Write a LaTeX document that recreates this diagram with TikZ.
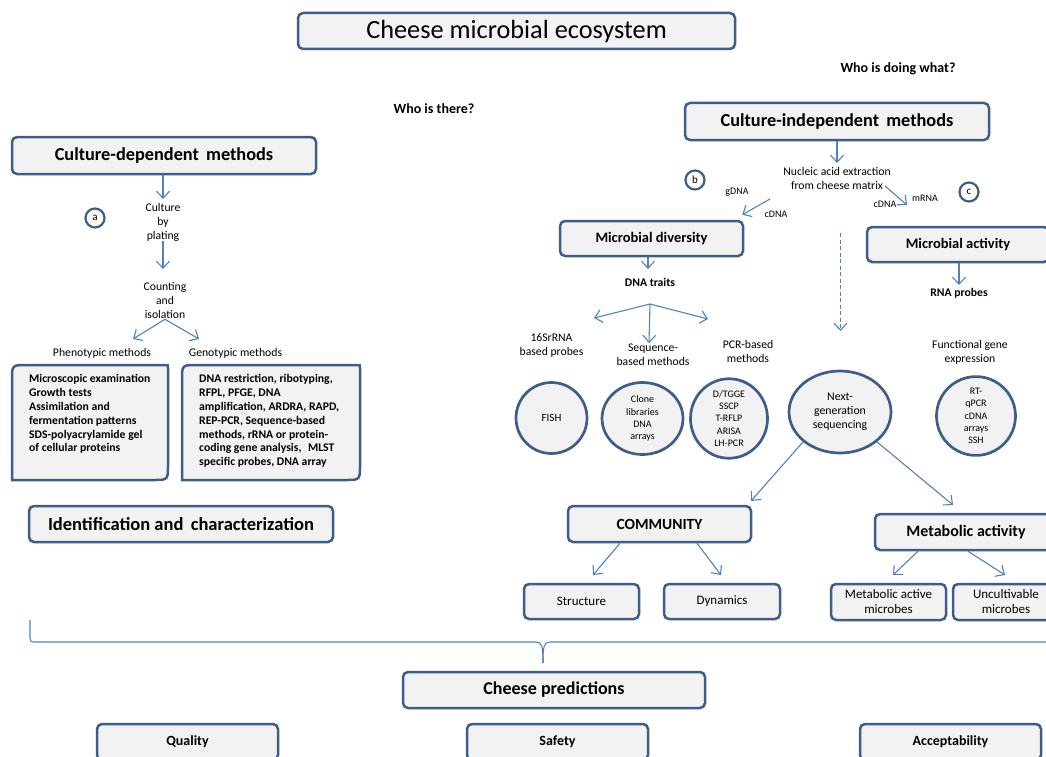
\documentclass[tikz,border=0pt]{standalone}
\usepackage{fontspec}
\setmainfont{Carlito}
\usetikzlibrary{arrows.meta,shapes.geometric}
\definecolor{bord}{RGB}{62,94,138}
\definecolor{boxfill}{RGB}{242,242,242}
\definecolor{arrc}{RGB}{79,129,189}
\begin{document}
\begin{tikzpicture}[x=1pt,y=-1pt,
  box/.style={draw=bord,fill=boxfill,line width=2.5pt,rounded corners=5pt,align=center,inner sep=0pt},
  circ/.style={ellipse,draw=bord,fill=boxfill,line width=2.7pt,align=center,inner sep=0pt,font=\fontsize{10}{12.3}\selectfont},
  letter/.style={circle,draw=bord,fill=white,line width=2.2pt,minimum size=19pt,inner sep=0pt,font=\fontsize{11}{12}\selectfont},
  small/.style={align=center,inner sep=1pt,font=\fontsize{11.7}{14}\selectfont},
  tiny/.style={inner sep=1pt,font=\fontsize{10}{11}\selectfont},
  arr/.style={draw=arrc,line width=1.1pt,-{Straight Barb[length=7pt,width=13pt]}},
  diag/.style={draw=bord,fill=boxfill,line width=2.5pt}
]
\useasboundingbox (0,0) rectangle (1046,757);

% titles
\node[box,minimum width=437pt,minimum height=36pt,font=\fontsize{26.3}{30}\selectfont] (title) at (516.5,31) {Cheese microbial ecosystem};
\node[font=\bfseries\fontsize{14}{16}\selectfont] (whodo) at (898,69) {Who is doing what?};
\node[font=\bfseries\fontsize{14}{16}\selectfont] (whothere) at (434,109) {Who is there?};

% left column
\node[box,minimum width=304pt,minimum height=37pt,font=\bfseries\fontsize{18.3}{21}\selectfont] (cdep) at (164,155.5) {Culture-dependent\, methods};
\node[letter] (la) at (95,218) {a};
\node[small] (plating) at (163,222) {Culture\\by\\plating};
\node[small] (counting) at (165,300) {Counting\\and\\isolation};
\node[small] (pheno) at (102,353) {Phenotypic methods};
\node[small] (geno) at (235.5,353) {Genotypic methods};
\coordinate (tplating) at (163,199);
\coordinate (tcount) at (163,269);
\coordinate (tpheno) at (133,339);
\coordinate (tgeno) at (199,339);
\draw[arr] ([xshift=-1pt]cdep.south) -- (tplating);
\draw[arr] ([yshift=1pt]plating.south) -- (tcount);
\draw[arr] (counting.south) -- (tpheno);
\draw[arr] (counting.south) -- (tgeno);

\draw[diag] (12,480) -- (12,380) .. controls (12,365) .. (27,365) -- (165,365) .. controls (168,365) .. (168,368) -- (168,465) .. controls (168,480) .. (153,480) -- cycle;
\draw[diag] (182,480) -- (182,380) .. controls (182,365) .. (197,365) -- (357,365) .. controls (360,365) .. (360,368) -- (360,465) .. controls (360,480) .. (345,480) -- cycle;
\node[anchor=north west,align=left,inner sep=0pt,font=\bfseries\fontsize{11.7}{13.9}\selectfont] (phenotext) at (29,374) {Microscopic examination\\Growth tests\\Assimilation and\\fermentation patterns\\SDS-polyacrylamide gel\\of cellular proteins};
\node[anchor=north west,align=left,inner sep=0pt,font=\bfseries\fontsize{11.7}{13.9}\selectfont] (genotext) at (199,374) {DNA restriction, ribotyping,\\RFPL, PFGE, DNA\\amplification, ARDRA, RAPD,\\REP-PCR, Sequence-based\\methods, rRNA or protein-\\coding gene analysis,\,\, MLST\\specific probes, DNA array};

\node[box,minimum width=304pt,minimum height=36pt,font=\bfseries\fontsize{18.5}{21}\selectfont] (ident) at (181,524) {Identification and\, characterization};

% right column
\node[box,minimum width=304pt,minimum height=37pt,font=\bfseries\fontsize{18.3}{21}\selectfont] (cind) at (837,121.5) {Culture-independent\, methods};
\node[small] (nucleic) at (837,178) {Nucleic acid extraction\\from cheese matrix};
\coordinate (tnuc) at (837,163);
\draw[arr] (cind.south) -- (tnuc);
\node[letter] (lb) at (695,180) {b};
\node[letter] (lc) at (969,192) {c};
\node[tiny] (gdna) at (737,192) {gDNA};
\node[tiny] (cdna1) at (776,214) {cDNA};
\node[tiny] (cdna2) at (885,204) {cDNA};
\node[tiny] (mrna) at (925,198) {mRNA};
\coordinate (la1) at (770,199);
\coordinate (ra1) at (885,186);
\coordinate (ra2) at (907,205);

\node[box,minimum width=183pt,minimum height=35pt,font=\bfseries\fontsize{14.5}{17}\selectfont] (mdiv) at (651.5,238.5) {Microbial diversity};
\node[box,minimum width=182pt,minimum height=35pt,font=\bfseries\fontsize{14.5}{17}\selectfont] (mact) at (958,244.5) {Microbial activity};
\draw[arr] (la1) -- ([xshift=-2pt,yshift=5pt]mdiv.north east);
\draw[arr] (ra1) -- (ra2);

\node[font=\bfseries\fontsize{11.7}{13}\selectfont,inner sep=1pt] (dnatraits) at (650,282) {DNA traits};
\node[font=\bfseries\fontsize{11.7}{13}\selectfont,inner sep=1pt] (rnaprobes) at (959,293) {RNA probes};
\coordinate (tdna) at (648,269);
\coordinate (trna) at (959,285);
\draw[arr] ([xshift=-3.5pt]mdiv.south) -- (tdna);
\draw[arr] ([xshift=1pt]mact.south) -- (trna);

\node[small] (l16s) at (551.5,345.5) {16SrRNA\\based probes};
\node[small] (lseq) at (653,355) {Sequence-\\based methods};
\node[small] (lpcr) at (748,351.5) {PCR-based\\methods};
\node[small] (lfun) at (970,352) {Functional gene\\expression};
\coordinate (apex) at (650,304);
\coordinate (t16s) at (594,318);
\coordinate (tseq) at (649,343);
\coordinate (tpcr) at (708,319);
\draw[arr] (apex) -- (t16s);
\draw[arr] (apex) -- (tseq);
\draw[arr] (apex) -- (tpcr);

\node[circ,minimum width=71pt,minimum height=71pt,font=\fontsize{11}{13}\selectfont] (fish) at (551.5,418) {FISH};
\node[circ,minimum width=81pt,minimum height=72pt] (clone) at (642.5,418.5) {Clone\\libraries\\DNA\\arrays};
\node[circ,minimum width=77pt,minimum height=74pt] (pcr) at (729,418.5) {D/TGGE\\SSCP\\T-RFLP\\ARISA\\LH-PCR};
\node[circ,minimum width=102pt,minimum height=82pt,font=\fontsize{11.8}{14}\selectfont] (ngs) at (840,412) {Next-\\generation\\sequencing};
\node[circ,minimum width=79pt,minimum height=76pt] (rt) at (976,416) {RT-\\qPCR\\cDNA\\arrays\\SSH};
\coordinate (dtop) at (840.5,233);
\coordinate (dbot) at (840.5,331);
\draw[arr,dash pattern=on 4pt off 2.5pt] (dtop) -- (dbot);

\node[box,minimum width=183pt,minimum height=36pt,font=\bfseries\fontsize{15.5}{18}\selectfont] (comm) at (659.5,524) {COMMUNITY};
\node[box,minimum width=182pt,minimum height=36pt,font=\bfseries\fontsize{16}{18}\selectfont] (metab) at (966,532) {Metabolic activity};
\coordinate (tcomm) at (751,501);
\coordinate (tmetab) at (953,505);
\draw[arr] (ngs.219) -- (tcomm);
\draw[arr] (ngs.321) -- (tmetab);

\node[box,minimum width=115pt,minimum height=35pt,font=\fontsize{13}{15}\selectfont] (struct) at (581.5,601.5) {Structure};
\node[box,minimum width=116pt,minimum height=35pt,font=\fontsize{13}{15}\selectfont] (dyn) at (722,601.5) {Dynamics};
\node[box,minimum width=115pt,minimum height=36pt,font=\fontsize{13}{15}\selectfont] (mam) at (888.5,602) {Metabolic active\\microbes};
\node[box,minimum width=106pt,minimum height=36pt,font=\fontsize{13}{15}\selectfont] (unc) at (1006,602) {Uncultivable\\microbes};
\coordinate (tstruct) at (593,575);
\coordinate (tdyn) at (721,575);
\coordinate (tmam) at (893,575);
\coordinate (tunc) at (1005,575);
\draw[arr] ([xshift=-39.5pt]comm.south) -- (tstruct);
\draw[arr] ([xshift=37.5pt]comm.south) -- (tdyn);
\draw[arr] ([xshift=-48pt]metab.south) -- (tmam);
\draw[arr] ([xshift=2pt]metab.south) -- (tunc);

% brace
\draw[arrc,line width=1.1pt] (30,620) -- (30,635) .. controls (30,642) .. (37,642) -- (536,642) .. controls (542,642) and (543,646) .. (543,663);
\draw[arrc,line width=1.1pt] (543,663) .. controls (543,646) and (544,642) .. (550,642) -- (1050,642);

\node[box,minimum width=302pt,minimum height=36pt,font=\bfseries\fontsize{18}{21}\selectfont] (pred) at (554,690) {Cheese predictions};
\node[box,minimum width=181pt,minimum height=36pt,font=\bfseries\fontsize{14}{16}\selectfont] (quality) at (187.5,742) {Quality};
\node[box,minimum width=181pt,minimum height=36pt,font=\bfseries\fontsize{14}{16}\selectfont] (safety) at (557.5,742) {Safety};
\node[box,minimum width=181pt,minimum height=36pt,font=\bfseries\fontsize{14}{16}\selectfont] (accept) at (950.5,742) {Acceptability};
\end{tikzpicture}
\end{document}
